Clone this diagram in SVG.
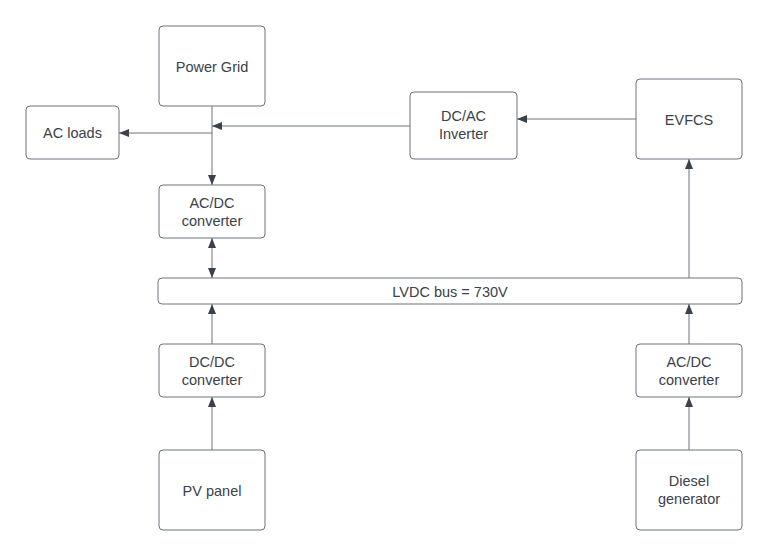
<svg xmlns="http://www.w3.org/2000/svg" width="768" height="556" viewBox="0 0 768 556">
<style>
.box{fill:#fff;stroke:#6c727b;stroke-width:1}
.t{font-family:"Liberation Sans",Arial,sans-serif;font-size:14.5px;fill:#3a414a;text-anchor:middle}
.c{fill:none;stroke:#6c727b;stroke-width:1}
</style>
<defs>
<marker id="ah" viewBox="0 0 10 10" refX="10" refY="5" markerWidth="10" markerHeight="10" markerUnits="userSpaceOnUse" orient="auto-start-reverse">
<path d="M0,1 L10,5 L0,9 Z" fill="#3a414a"/>
</marker>
</defs>
<rect width="768" height="556" fill="#fff"/>
<g id="connectors">
<path class="c" d="M212,106 V185" marker-end="url(#ah)"/>
<path class="c" d="M212,133 H119" marker-end="url(#ah)"/>
<path class="c" d="M410,126 H212" marker-end="url(#ah)"/>
<path class="c" d="M636,119 H517" marker-end="url(#ah)"/>
<path class="c" d="M212,238 V278" marker-start="url(#ah)" marker-end="url(#ah)"/>
<path class="c" d="M689,278 V159" marker-end="url(#ah)"/>
<path class="c" d="M212,344 V304" marker-end="url(#ah)"/>
<path class="c" d="M212,450 V397" marker-end="url(#ah)"/>
<path class="c" d="M689,344 V304" marker-end="url(#ah)"/>
<path class="c" d="M689,450 V397" marker-end="url(#ah)"/>
</g>
<g id="power-grid"><rect class="box" x="159" y="26" width="106" height="80" rx="4"/><text class="t" x="212" y="71.5">Power Grid</text></g>
<g id="ac-loads"><rect class="box" x="26" y="106" width="93" height="53" rx="4"/><text class="t" x="72.5" y="137.5">AC loads</text></g>
<g id="dcac-inverter"><rect class="box" x="410" y="92" width="107" height="67" rx="4"/><text class="t" x="463.5" y="121">DC/AC</text><text class="t" x="463.5" y="138.5">Inverter</text></g>
<g id="evfcs"><rect class="box" x="636" y="79" width="106" height="80" rx="4"/><text class="t" x="689" y="124.5">EVFCS</text></g>
<g id="acdc-top"><rect class="box" x="159" y="185" width="106" height="53" rx="4"/><text class="t" x="212" y="208">AC/DC</text><text class="t" x="212" y="225.5">converter</text></g>
<g id="lvdc-bus"><rect class="box" x="158" y="278" width="584" height="26" rx="4"/><text class="t" x="450" y="296.5">LVDC bus = 730V</text></g>
<g id="dcdc"><rect class="box" x="159" y="344" width="106" height="53" rx="4"/><text class="t" x="212" y="367">DC/DC</text><text class="t" x="212" y="384.5">converter</text></g>
<g id="acdc-right"><rect class="box" x="636" y="344" width="106" height="53" rx="4"/><text class="t" x="689" y="367">AC/DC</text><text class="t" x="689" y="384.5">converter</text></g>
<g id="pv-panel"><rect class="box" x="159" y="450" width="106" height="80" rx="4"/><text class="t" x="212" y="495.5">PV panel</text></g>
<g id="diesel"><rect class="box" x="636" y="450" width="106" height="80" rx="4"/><text class="t" x="689" y="486">Diesel</text><text class="t" x="689" y="503.5">generator</text></g>
</svg>
